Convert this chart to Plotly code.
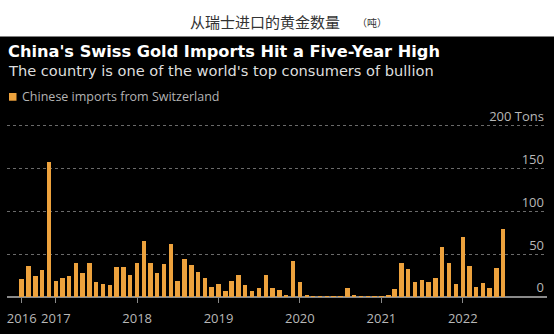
import pandas as pd
import plotly.graph_objects as go

# Monthly Chinese gold imports from Switzerland, tons (Aug 2016 - Jul 2022)
months = pd.date_range("2016-08-01", "2022-07-01", freq="MS")
imports_tons = [
    # 2016 Aug-Dec
    20.5, 36.0, 24.5, 31.5, 157.5,
    # 2017
    18.5, 22.5, 24.0, 40.0, 28.0, 40.0, 17.0, 15.5, 14.5, 35.0, 35.0, 26.0,
    # 2018
    40.0, 66.0, 40.0, 27.5, 38.0, 62.0, 19.0, 44.0, 37.5, 29.3, 21.7, 11.6,
    # 2019
    15.5, 6.5, 19.2, 25.6, 13.6, 6.5, 10.3, 25.6, 10.3, 7.7, 2.8, 42.4,
    # 2020
    17.4, 2.0, 0.3, 0.3, 0.3, 0.3, 0.3, 10.5, 2.0, 0.3, 0.3, 0.3,
    # 2021
    0.3, 1.5, 9.3, 40.3, 33.0, 18.0, 20.4, 18.0, 22.6, 59.0, 40.2, 15.3,
    # 2022 Jan-Jul
    70.0, 36.5, 11.4, 16.5, 10.0, 33.4, 80.0,
]

year_tick_dates = ["2016-08-01", "2017-01-01", "2018-01-01", "2019-01-01",
                   "2020-01-01", "2021-01-01", "2022-01-01"]
year_tick_labels = ["2016", "2017", "2018", "2019", "2020", "2021", "2022"]
value_ticks = [0, 50, 100, 150, 200]
value_tick_labels = ["0", "50", "100", "150", "200 Tons"]

series_name = "Chinese imports from Switzerland"
header_cn = "从瑞士进口的黄金数量"
header_unit = "（吨）"
title = "China's Swiss Gold Imports Hit a Five-Year High"
subtitle = "The country is one of the world's top consumers of bullion"

BAR = "#eda23d"
GRID = "#6a6a6a"
AXIS_TXT = "#b8b8b8"
SANS = "Open Sans, Noto Sans, Arial, sans-serif"
WIDE = "DejaVu Sans, Verdana, sans-serif"

W, H = 554, 334
ML, MR, MT, MB = 7, 7, 107, 30
PW, PH = W - ML - MR, H - MT - MB


def px_x(x):
    return (x - ML) / PW


def px_y(y):
    return (H - MB - y) / PH


fig = go.Figure(
    go.Bar(
        x=months,
        y=imports_tons,
        width=20 * 86400000,
        marker=dict(color=BAR, line=dict(width=0)),
        name=series_name,
        showlegend=False,
    )
)

fig.update_layout(
    width=W,
    height=H,
    margin=dict(l=ML, r=MR, t=MT, b=MB, pad=0),
    paper_bgcolor="#000000",
    plot_bgcolor="rgba(0,0,0,0)",
    bargap=0,
    font=dict(family=SANS, color=AXIS_TXT, size=13),
    xaxis=dict(
        type="date",
        range=["2016-05-27", "2023-01-14"],
        tickmode="array",
        tickvals=year_tick_dates,
        ticktext=year_tick_labels,
        ticks="outside",
        ticklen=5,
        tickwidth=1,
        tickcolor="#8a8a8a",
        showgrid=False,
        showline=False,
        zeroline=False,
        tickfont=dict(size=13, color=AXIS_TXT),
        ticklabelstandoff=4,
    ),
    yaxis=dict(
        range=[0, 222],
        side="right",
        tickmode="array",
        tickvals=value_ticks,
        ticktext=value_tick_labels,
        ticklabelposition="inside top",
        ticks="",
        showgrid=True,
        gridcolor=GRID,
        gridwidth=1,
        griddash="dot",
        zeroline=True,
        zerolinecolor="#8a8a8a",
        zerolinewidth=1.5,
        showline=False,
        tickfont=dict(size=13, color=AXIS_TXT),
    ),
)

# white header band above the dark chart panel
fig.add_shape(type="rect", xref="paper", yref="paper",
              x0=px_x(-5), x1=px_x(W + 5), y0=px_y(34), y1=px_y(-5),
              fillcolor="#ffffff", line=dict(width=0), layer="below")

# legend swatch
fig.add_shape(type="rect", xref="paper", yref="paper",
              x0=px_x(9), x1=px_x(16.5), y0=px_y(100.5), y1=px_y(92.5),
              fillcolor=BAR, line=dict(width=0))

annotations = [
    dict(text=header_cn, x=px_x(264.5), y=px_y(18.5), xanchor="center", yanchor="middle",
         font=dict(family="Noto Sans CJK SC", size=15, color="#333333")),
    dict(text=header_unit, x=px_x(371.5), y=px_y(19), xanchor="center", yanchor="middle",
         font=dict(family="Noto Sans CJK SC", size=10, color="#333333")),
    dict(text="<b>" + title + "</b>", x=px_x(7), y=px_y(49.5), xanchor="left", yanchor="middle",
         font=dict(family=WIDE, size=16.2, color="#ffffff")),
    dict(text=subtitle, x=px_x(7), y=px_y(69), xanchor="left", yanchor="middle",
         font=dict(family=WIDE, size=14.6, color="#dedede")),
    dict(text=series_name, x=px_x(21), y=px_y(96.5), xanchor="left", yanchor="middle",
         font=dict(family=SANS, size=12.5, color="#b4b4b4")),
]
for a in annotations:
    fig.add_annotation(xref="paper", yref="paper", showarrow=False, borderpad=0, **a)

fig.write_html("out.html")
